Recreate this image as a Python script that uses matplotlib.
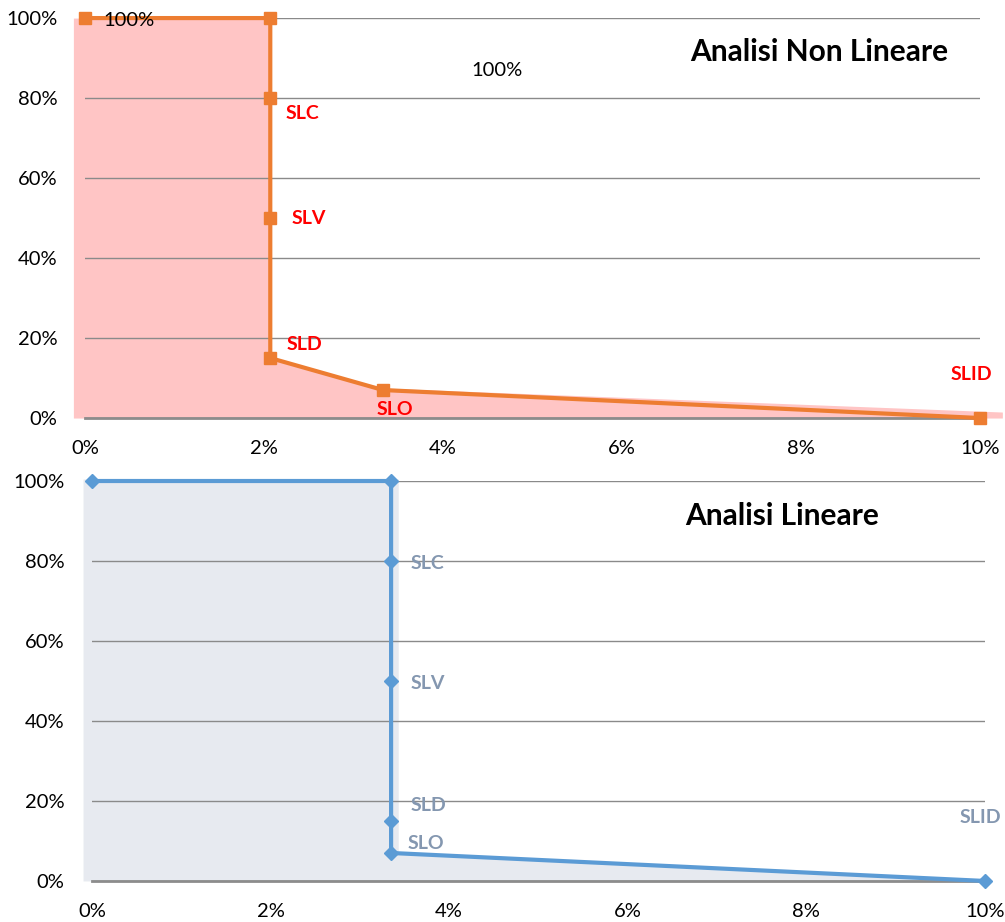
import matplotlib
matplotlib.use("Agg")
import matplotlib.pyplot as plt
from matplotlib.ticker import PercentFormatter

plt.rcParams['font.family'] = ['Lato', 'DejaVu Sans']

# Non-linear analysis curve (drift vs. performance)
nl_x = [0.0, 0.0207, 0.0207, 0.0207, 0.0207, 0.0333, 0.100]
nl_y = [1.00, 1.00, 0.80, 0.50, 0.15, 0.07, 0.00]
nl_fill_x = [-0.0013, 0.0207, 0.0207, 0.0333, 0.1025]
nl_fill_y = [1.00, 1.00, 0.15, 0.075, 0.015]

# Linear analysis curve
lin_x = [0.0, 0.0335, 0.0335, 0.0335, 0.0335, 0.0335, 0.100]
lin_y = [1.00, 1.00, 0.80, 0.50, 0.15, 0.07, 0.00]
lin_fill_x = [-0.001, 0.0343, 0.0343, 0.100]
lin_fill_y = [1.005, 1.005, 0.07, 0.00]

state_labels = ["SLC", "SLV", "SLD", "SLO", "SLID"]
x_ticks = [0.0, 0.02, 0.04, 0.06, 0.08, 0.10]
y_ticks = [0.0, 0.2, 0.4, 0.6, 0.8, 1.0]

fig = plt.figure(figsize=(10.05, 9.22), dpi=100)
ax1 = fig.add_axes([0.0846, 0.5466, 0.8905, 0.4338])
ax2 = fig.add_axes([0.0915, 0.0445, 0.8885, 0.4338])


def style(ax):
    ax.set_xlim(0, 0.10)
    ax.set_ylim(0, 1.0)
    ax.set_xticks(x_ticks)
    ax.set_yticks(y_ticks)
    ax.xaxis.set_major_formatter(PercentFormatter(1.0, decimals=0))
    ax.yaxis.set_major_formatter(PercentFormatter(1.0, decimals=0))
    for s in ['top', 'right', 'left']:
        ax.spines[s].set_visible(False)
    ax.spines['bottom'].set_color('#8c8c8c')
    ax.spines['bottom'].set_linewidth(2)
    ax.spines['bottom'].set_zorder(1)
    ax.tick_params(length=0, labelsize=14.5, colors='black')
    ax.tick_params(axis='x', pad=16)
    ax.tick_params(axis='y', pad=20)
    ax.grid(axis='y', color='#8a8a8a', linewidth=1)
    ax.set_axisbelow(True)


style(ax1)
style(ax2)


def label(ax, text, xy, dx, dy, color, ha='left', size=14, weight='bold'):
    ax.annotate(text, xy, xytext=(dx, dy), textcoords='offset points',
                color=color, fontsize=size, fontweight=weight,
                va='center', ha=ha)


# Top panel
ax1.fill_between(nl_fill_x, nl_fill_y, 0, color='#FFC5C5', zorder=0.5,
                 clip_on=False, lw=0)
ax1.plot(nl_x, nl_y, color='#ED7D31', lw=3, marker='s', markersize=9,
         clip_on=False, zorder=3)
red = '#FF0000'
offs = [(11, -11), (15, 0), (11.5, 10), (-5, -14)]
for lbl, xi, yi, (dx, dy) in zip(state_labels[:4], nl_x[2:6], nl_y[2:6], offs):
    label(ax1, lbl, (xi, yi), dx, dy, red)
label(ax1, state_labels[4], (nl_x[6], nl_y[6]), -6, 31, red, ha='center')
label(ax1, "100%", (nl_x[0], nl_y[0]), 32, -2, 'black', ha='center',
      size=14.5, weight='normal')
ax1.text(0.0460, 0.87, "100%", fontsize=14.5, ha='center', va='center')
ax1.text(0.0820, 0.915, "Analisi Non Lineare", fontsize=21.5, fontweight='bold',
         ha='center', va='center')

# Bottom panel
ax2.fill_between(lin_fill_x, lin_fill_y, 0, color='#E7EAF0', zorder=0.5,
                 clip_on=False, lw=0)
ax2.plot(lin_x, lin_y, color='#5B9BD5', lw=3, marker='D', markersize=7,
         clip_on=False, zorder=3)
blue_grey = '#8497B0'
offs2 = [(14, -1.5), (14, -1.5), (14, 11.5), (12, 7)]
for lbl, xi, yi, (dx, dy) in zip(state_labels[:4], lin_x[2:6], lin_y[2:6], offs2):
    label(ax2, lbl, (xi, yi), dx, dy, blue_grey)
label(ax2, state_labels[4], (lin_x[6], lin_y[6]), -3, 46, blue_grey, ha='center')
ax2.text(0.0773, 0.912, "Analisi Lineare", fontsize=21.5, fontweight='bold',
         ha='center', va='center')

fig.savefig("out.png", dpi=100)
